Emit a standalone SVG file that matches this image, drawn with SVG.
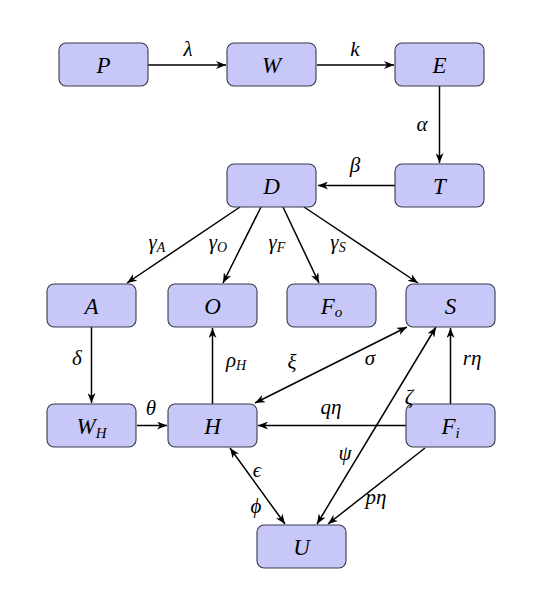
<svg xmlns="http://www.w3.org/2000/svg" width="540" height="590" viewBox="0 0 540 590">
<style>
.n rect{fill:#c8c8f8;stroke:#3a3a4a;stroke-width:1.1}
.n text{font-family:"Liberation Serif","DejaVu Serif",serif;font-style:italic;font-size:23px;text-anchor:middle;fill:#000}
.e path{fill:none;stroke:#000;stroke-width:1.5;marker-end:url(#ah)}
.e path.bi{marker-start:url(#ah)}
.l text{font-family:"Liberation Serif","DejaVu Serif",serif;font-style:italic;font-size:21px;text-anchor:middle;fill:#000}
.sub{font-size:15px}
.l .sub{font-size:14px}
</style>
<defs>
<marker id="ah" viewBox="0 0 10 8" refX="10" refY="4" markerWidth="10" markerHeight="8" markerUnits="userSpaceOnUse" orient="auto-start-reverse">
<path d="M0,0 L10,4 L0,8 L3,4 Z" fill="#000"/>
</marker>
</defs>
<rect width="540" height="590" fill="#fff"/>
<g class="e" id="connectors">
<path d="M148,65 L226,65"/>
<path d="M317,65 L394,65"/>
<path d="M439.5,86 L439.5,163"/>
<path d="M395,185.5 L318,185.5"/>
<path d="M240,207 L127,283"/>
<path d="M261,207 L223,283"/>
<path d="M283,207 L319,283"/>
<path d="M304,207 L418,283"/>
<path d="M91.5,327 L91.5,403"/>
<path d="M137,425.5 L167,425.5"/>
<path d="M212.5,404 L212.5,328"/>
<path class="bi" d="M255,403 L407,327"/>
<path d="M406,425.5 L258,425.5"/>
<path d="M450.5,404 L450.5,328"/>
<path class="bi" d="M317,524 L436,327"/>
<path class="bi" d="M230,448 L285,524"/>
<path d="M425,448 L328,524"/>
</g>
<g class="n" id="P"><rect x="59" y="43" width="89" height="43" rx="7"/><text x="103.5" y="72.5">P</text></g>
<g class="n" id="W"><rect x="227" y="43" width="89" height="43" rx="7"/><text x="271.5" y="72.5">W</text></g>
<g class="n" id="E"><rect x="395" y="43" width="89" height="43" rx="7"/><text x="439.5" y="72.5">E</text></g>
<g class="n" id="D"><rect x="227" y="164" width="89" height="43" rx="7"/><text x="271.5" y="193.5">D</text></g>
<g class="n" id="T"><rect x="395" y="164" width="89" height="43" rx="7"/><text x="439.5" y="193.5">T</text></g>
<g class="n" id="A"><rect x="47" y="284" width="89" height="43" rx="7"/><text x="91.5" y="313.5">A</text></g>
<g class="n" id="O"><rect x="168" y="284" width="89" height="43" rx="7"/><text x="212.5" y="313.5">O</text></g>
<g class="n" id="Fo"><rect x="287" y="284" width="89" height="43" rx="7"/><text x="331.5" y="313.5">F<tspan class="sub" dy="3">o</tspan></text></g>
<g class="n" id="S"><rect x="406" y="284" width="89" height="43" rx="7"/><text x="450.5" y="313.5">S</text></g>
<g class="n" id="WH"><rect x="47" y="404" width="89" height="43" rx="7"/><text x="91.5" y="433.5">W<tspan class="sub" dy="4">H</tspan></text></g>
<g class="n" id="H"><rect x="168" y="404" width="89" height="43" rx="7"/><text x="212.5" y="433.5">H</text></g>
<g class="n" id="Fi"><rect x="406" y="404" width="89" height="43" rx="7"/><text x="450.5" y="433.5">F<tspan class="sub" dy="4">i</tspan></text></g>
<g class="n" id="U"><rect x="257" y="525" width="89" height="43" rx="7"/><text x="301.5" y="554.5">U</text></g>
<g class="l" id="labels">
<text x="188" y="56">λ</text>
<text x="355" y="56">k</text>
<text x="422" y="131">α</text>
<text x="355" y="172">β</text>
<text x="157" y="249">γ<tspan class="sub" dy="3">A</tspan></text>
<text x="218" y="249">γ<tspan class="sub" dy="3">O</tspan></text>
<text x="277" y="249">γ<tspan class="sub" dy="3">F</tspan></text>
<text x="338" y="249">γ<tspan class="sub" dy="3">S</tspan></text>
<text x="77" y="365">δ</text>
<text x="236" y="367">ρ<tspan class="sub" dy="3">H</tspan></text>
<text x="292" y="369">ξ</text>
<text x="370" y="365">σ</text>
<text x="472" y="365">rη</text>
<text x="151" y="415">θ</text>
<text x="331" y="414">qη</text>
<text x="409" y="404">ζ</text>
<text x="345" y="460">ψ</text>
<text x="257" y="477">ϵ</text>
<text x="256" y="513">ϕ</text>
<text x="376" y="504">pη</text>
</g>
</svg>
